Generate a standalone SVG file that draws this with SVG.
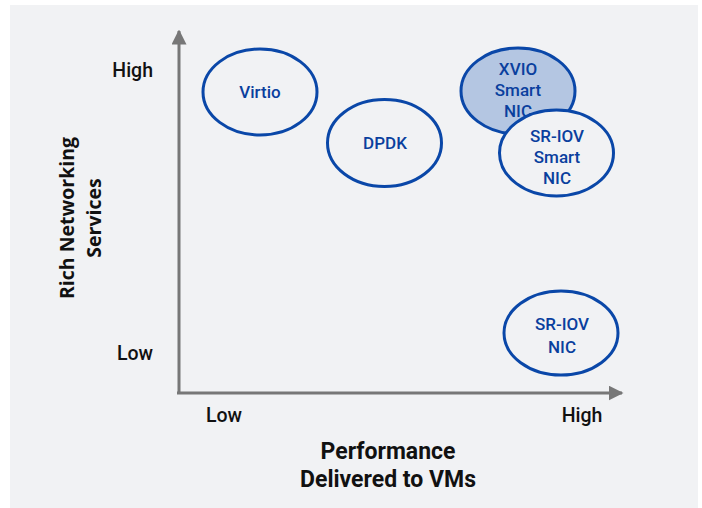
<svg xmlns="http://www.w3.org/2000/svg" width="702" height="508" viewBox="0 0 702 508">
<style>
.bg{fill:#f1f2f4}
.axis{stroke:#777;stroke-width:3;fill:none}
.node{stroke:#0a47a8;stroke-width:3;fill:#f1f2f4}
.node.hi{fill:#b4c6e2}
.nt{font-family:Roboto,"Liberation Sans",sans-serif;font-weight:500;font-size:17px;fill:#0a3f9e;text-anchor:middle}
.al{font-family:Roboto,"Liberation Sans",sans-serif;font-weight:500;font-size:19.5px;fill:#111}
.tl{font-family:"Open Sans","Liberation Sans",sans-serif;font-weight:700;font-size:19.5px;fill:#111;text-anchor:middle}
.xl{font-family:Roboto,"Liberation Sans",sans-serif;font-weight:700;font-size:23px;fill:#111;text-anchor:middle}
</style>
<defs>
<marker id="arr" viewBox="0 0 10 10" refX="9" refY="5" markerWidth="5" markerHeight="5" markerUnits="strokeWidth" orient="auto">
<path d="M0,0 L10,5 L0,10 z" fill="#777"/>
</marker>
</defs>
<rect class="bg" x="10" y="5" width="688" height="503"/>
<g id="connectors">
<path class="axis" d="M179,393 V31" marker-end="url(#arr)"/>
<path class="axis" d="M177,393 H622" marker-end="url(#arr)"/>
</g>
<g id="axis-labels">
<text class="al" x="153" y="77" text-anchor="end">High</text>
<text class="al" x="153" y="360" text-anchor="end">Low</text>
<text class="al" x="224" y="422" text-anchor="middle">Low</text>
<text class="al" x="582" y="422" text-anchor="middle">High</text>
<text class="tl" transform="translate(74,218) rotate(-90)">Rich Networking</text>
<text class="tl" transform="translate(101,218) rotate(-90)">Services</text>
<text class="xl" x="388" y="459">Performance</text>
<text class="xl" x="388" y="487">Delivered to VMs</text>
</g>
<g id="virtio">
<ellipse class="node" cx="260" cy="92" rx="57" ry="43"/>
<text class="nt" x="260" y="98">Virtio</text>
</g>
<g id="dpdk">
<ellipse class="node" cx="384.5" cy="143" rx="57" ry="43.5"/>
<text class="nt" x="385" y="149">DPDK</text>
</g>
<g id="xvio">
<ellipse class="node hi" cx="518" cy="91" rx="57" ry="43"/>
<text class="nt" x="518" y="75">XVIO</text>
<text class="nt" x="518" y="96">Smart</text>
<text class="nt" x="518" y="117">NIC</text>
</g>
<g id="sriov-smart">
<ellipse class="node" cx="556.5" cy="153" rx="57" ry="43"/>
<text class="nt" x="557" y="142">SR-IOV</text>
<text class="nt" x="557" y="163">Smart</text>
<text class="nt" x="557" y="184">NIC</text>
</g>
<g id="sriov-nic">
<ellipse class="node" cx="561" cy="333" rx="57" ry="42"/>
<text class="nt" x="562" y="330">SR-IOV</text>
<text class="nt" x="562" y="353">NIC</text>
</g>
</svg>
